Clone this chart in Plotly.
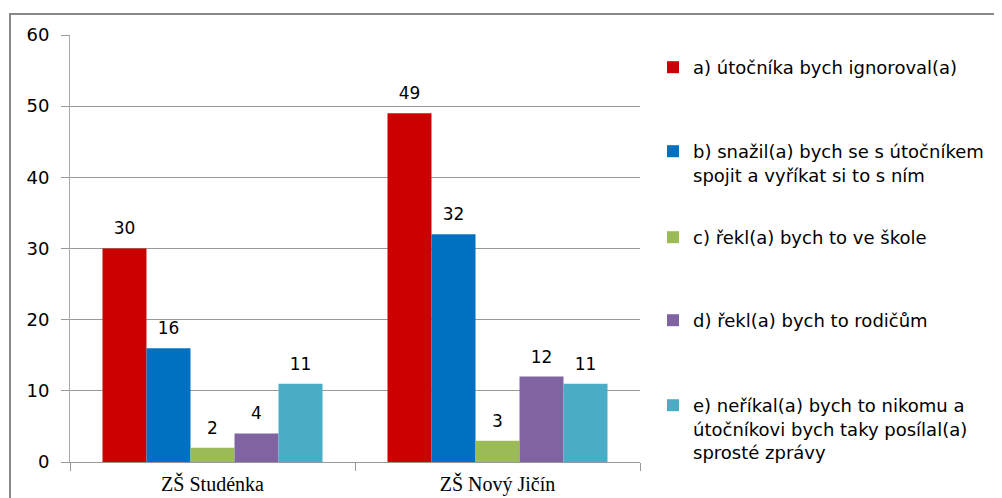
import plotly.graph_objects as go

categories = ["ZŠ Studénka", "ZŠ Nový Jičín"]
series_names = [
    "a) útočníka bych ignoroval(a)",
    "b) snažil(a) bych se s útočníkem<br>spojit a vyříkat si to s ním",
    "c) řekl(a) bych to ve škole",
    "d) řekl(a) bych to rodičům",
    "e) neříkal(a) bych to nikomu a<br>útočníkovi bych taky posílal(a)<br>sprosté zprávy",
]
values_a = [30, 49]
values_b = [16, 32]
values_c = [2, 3]
values_d = [4, 12]
values_e = [11, 11]
colors = ["#CC0000", "#0070C0", "#9BBB59", "#8064A2", "#4BACC6"]

all_values = [values_a, values_b, values_c, values_d, values_e]

# page has an 8px body margin, so figure is drawn 8px smaller
W, H = 994, 490
ml, mr, mt, mb = 62, 362, 27, 36
PW = W - ml - mr
PH = H - mt - mb

legend_names = ["legend", "legend2", "legend3", "legend4", "legend5"]
line_centers = [59, 143, 229, 312, 397]  # figure px of first text line

fig = go.Figure()
for i, (name, vals, col) in enumerate(zip(series_names, all_values, colors)):
    fig.add_trace(go.Bar(
        x=categories, y=vals, name=name, marker_color=col,
        marker_line_width=0,
        text=[f"<span style='font-size:17px'>{v}</span><br> " for v in vals],
        textposition="outside", constraintext="none",
        textfont=dict(family="DejaVu Sans", size=7, color="#000"),
        cliponaxis=False, legend=legend_names[i],
    ))

legend_x = (645 - ml) / PW
layout_legends = {}
for i, ln in enumerate(legend_names):
    top = line_centers[i] - 18
    layout_legends[ln] = dict(
        x=legend_x, xanchor="left", y=1 - (top - mt) / PH, yanchor="top",
        font=dict(family="DejaVu Sans", size=18, color="#000"),
        valign="top", itemwidth=30, bgcolor="rgba(0,0,0,0)",
    )

fig.update_layout(
    width=W, height=H,
    margin=dict(l=ml, r=mr, t=mt, b=mb, autoexpand=False),
    barmode="group", bargap=0.228, bargroupgap=0,
    plot_bgcolor="white", paper_bgcolor="white",
    font=dict(family="DejaVu Sans", size=16, color="#000"),
    showlegend=True,
    uniformtext=dict(mode=False),
    xaxis=dict(
        showline=True, linecolor="#999", linewidth=1,
        ticks="outside", tickson="boundaries", ticklen=8, tickcolor="#999",
        tickfont=dict(family="Liberation Serif", size=20, color="#000"),
        ticklabelstandoff=4,
        showgrid=False,
    ),
    yaxis=dict(
        range=[0, 60], dtick=10,
        showline=True, linecolor="#aaa", linewidth=1,
        ticks="outside", ticklen=8, tickcolor="#999",
        showgrid=True, gridcolor="#999", gridwidth=1,
        tickfont=dict(family="DejaVu Sans", size=18, color="#000"),
        ticklabelstandoff=8,
        zeroline=False,
    ),
    **layout_legends,
)

# outer chart border
fig.add_shape(type="rect", xref="paper", yref="paper",
              x0=(2 - ml) / PW, x1=(1010 - ml) / PW,
              y0=-(mb + 20) / PH, y1=(H - 6 - mb) / PH,
              line=dict(color="#888", width=2), layer="below")

fig.write_html("out.html")
